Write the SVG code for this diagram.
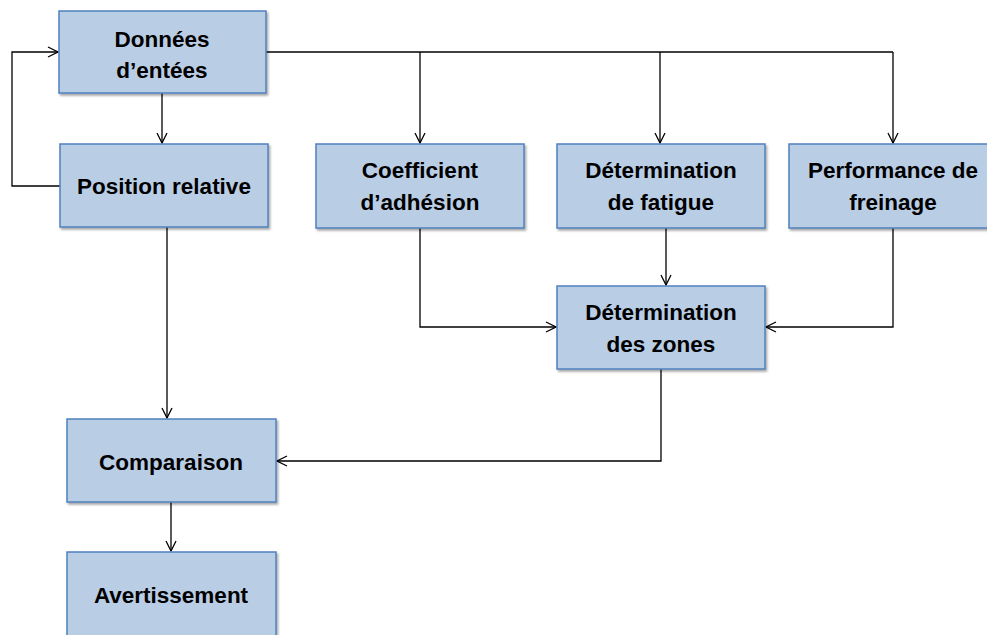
<svg xmlns="http://www.w3.org/2000/svg" width="987" height="635" viewBox="0 0 987 635">
  <style>
    .box { fill: #b9cde5; stroke: #4f81bd; stroke-width: 1.5; filter: url(#shadow); }
    .lbl { font-family: "Liberation Sans", Arial, sans-serif; font-weight: bold; font-size: 22.5px; fill: #000; text-anchor: middle; }
    .wire { fill: none; stroke: #000; stroke-width: 1.3; }
  </style>
  <defs>
    <filter id="shadow" x="-10%" y="-10%" width="120%" height="130%">
      <feDropShadow dx="1.5" dy="2" stdDeviation="1.2" flood-color="#000" flood-opacity="0.35"/>
    </filter>
    <marker id="arrow" viewBox="0 0 12 12" refX="11" refY="6" markerWidth="12" markerHeight="12" markerUnits="userSpaceOnUse" orient="auto">
      <path d="M1,1 L11,6 L1,11" fill="none" stroke="#000" stroke-width="1.3"/>
    </marker>
  </defs>
  <rect width="987" height="635" fill="#fff"/>

  <g id="connectors">
    <!-- feedback loop into the input data -->
    <path class="wire" d="M60,186 H12 V52 H58" marker-end="url(#arrow)"/>
    <!-- bus from the input data -->
    <path class="wire" d="M266,52 H893"/>
    <path class="wire" d="M420,52 V143" marker-end="url(#arrow)"/>
    <path class="wire" d="M660,52 V143" marker-end="url(#arrow)"/>
    <path class="wire" d="M893,52 V143" marker-end="url(#arrow)"/>
    <path class="wire" d="M162,93 V143" marker-end="url(#arrow)"/>
    <!-- into zone determination -->
    <path class="wire" d="M420,228 V327 H556" marker-end="url(#arrow)"/>
    <path class="wire" d="M666,228 V285" marker-end="url(#arrow)"/>
    <path class="wire" d="M893,228 V327 H766" marker-end="url(#arrow)"/>
    <!-- into comparison -->
    <path class="wire" d="M167,227 V418" marker-end="url(#arrow)"/>
    <path class="wire" d="M661,369 V461 H277" marker-end="url(#arrow)"/>
    <path class="wire" d="M171,502 V551" marker-end="url(#arrow)"/>
  </g>

  <g id="donnees">
    <rect class="box" x="59" y="11" width="207" height="82"/>
    <text class="lbl" x="162" y="47">Données</text>
    <text class="lbl" x="162" y="78">d’entées</text>
  </g>
  <g id="position">
    <rect class="box" x="60" y="144" width="208" height="83"/>
    <text class="lbl" x="164" y="194">Position relative</text>
  </g>
  <g id="coefficient">
    <rect class="box" x="316" y="144" width="208" height="84"/>
    <text class="lbl" x="420" y="178">Coefficient</text>
    <text class="lbl" x="420" y="210">d’adhésion</text>
  </g>
  <g id="fatigue">
    <rect class="box" x="557" y="144" width="208" height="84"/>
    <text class="lbl" x="661" y="178">Détermination</text>
    <text class="lbl" x="661" y="210">de fatigue</text>
  </g>
  <g id="freinage">
    <rect class="box" x="789" y="144" width="208" height="84"/>
    <text class="lbl" x="893" y="178">Performance de</text>
    <text class="lbl" x="893" y="210">freinage</text>
  </g>
  <g id="zones">
    <rect class="box" x="557" y="286" width="208" height="83"/>
    <text class="lbl" x="661" y="320">Détermination</text>
    <text class="lbl" x="661" y="352">des zones</text>
  </g>
  <g id="comparaison">
    <rect class="box" x="67" y="419" width="209" height="83"/>
    <text class="lbl" x="171" y="470">Comparaison</text>
  </g>
  <g id="avertissement">
    <rect class="box" x="67" y="552" width="209" height="90"/>
    <text class="lbl" x="171" y="603">Avertissement</text>
  </g>
</svg>
